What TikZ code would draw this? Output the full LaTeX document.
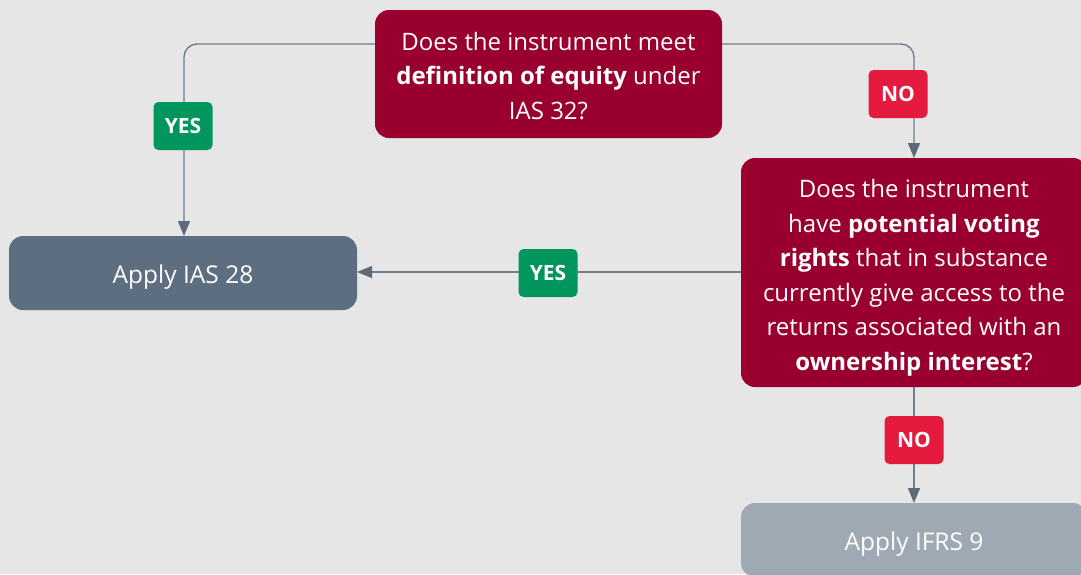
\documentclass[tikz,border=0pt]{standalone}
\usepackage{fontspec}
\setmainfont{Open Sans}
\usetikzlibrary{arrows.meta}
\definecolor{bgc}{HTML}{E6E6E6}
\definecolor{qred}{HTML}{990030}
\definecolor{yesgreen}{HTML}{00965E}
\definecolor{nored}{HTML}{E41B3F}
\definecolor{slate}{HTML}{5D6E80}
\definecolor{lightslate}{HTML}{9FA9B3}
\definecolor{linec}{HTML}{6F7F8F}
\definecolor{tipc}{HTML}{5B6B7B}
\tikzset{
  x=1pt, y=-1pt,
  qtext/.style={text=white, align=center, font=\fontsize{24}{34.5}\selectfont},
  otext/.style={text=white, font=\fontsize{24.5}{30}\selectfont},
  tag/.style={rounded corners=5pt, text=white, font=\fontsize{21}{24}\selectfont\bfseries,
    minimum width=59pt, minimum height=48pt, inner sep=0pt},
  yestag/.style={tag, fill=yesgreen},
  notag/.style={tag, fill=nored},
  link/.style={draw=linec, line width=1.4pt, rounded corners=13pt,
    -{Triangle[length=15pt,width=12pt,fill=tipc,color=tipc]}},
}
\begin{document}
\begin{tikzpicture}
\useasboundingbox[fill=bgc] (0,0) rectangle (1081,574);

% question boxes
\fill[qred, rounded corners=14pt] (375,10) rectangle (722,138);
\node[qtext] (q1) at (548.5,76)
  {Does the instrument meet\\\textbf{definition of equity} under\\IAS 32?};
\coordinate (q1w) at (375,44);
\coordinate (q1e) at (722,44);

\fill[qred, rounded corners=14pt] (741,158) rectangle (1087,387);
\node[qtext] (q2) at (914,278)
  {Does the instrument\\have \textbf{potential voting}\\\textbf{rights} that in substance\\currently give access to the\\returns associated with an\\\textbf{ownership interest}?};
\coordinate (q2n) at (914,158);
\coordinate (q2w) at (741,272);
\coordinate (q2s) at (914,387);

% outcome boxes
\fill[slate, rounded corners=14pt] (9,236) rectangle (357,310);
\node[otext] (ias) at (183,277) {Apply IAS 28};
\coordinate (iasn) at (184,236);
\coordinate (iase) at (357,272);

\fill[lightslate, rounded corners=14pt] (741,503) rectangle (1087,577);
\node[otext] (ifrs) at (914,544) {Apply IFRS 9};
\coordinate (ifrsn) at (914,503);

% connectors
\draw[link] (q1w) -| (iasn);
\draw[link] (q1e) -| (q2n);
\draw[link, rounded corners=0pt] (q2w) -- (iase);
\draw[link, rounded corners=0pt] (q2s) -- (ifrsn);

% answer tags
\node[yestag] (y1) at (183,126) {YES};
\node[notag]  (n1) at (898,94) {NO};
\node[yestag] (y2) at (548,273) {YES};
\node[notag]  (n2) at (914,440) {NO};
\end{tikzpicture}
\end{document}
